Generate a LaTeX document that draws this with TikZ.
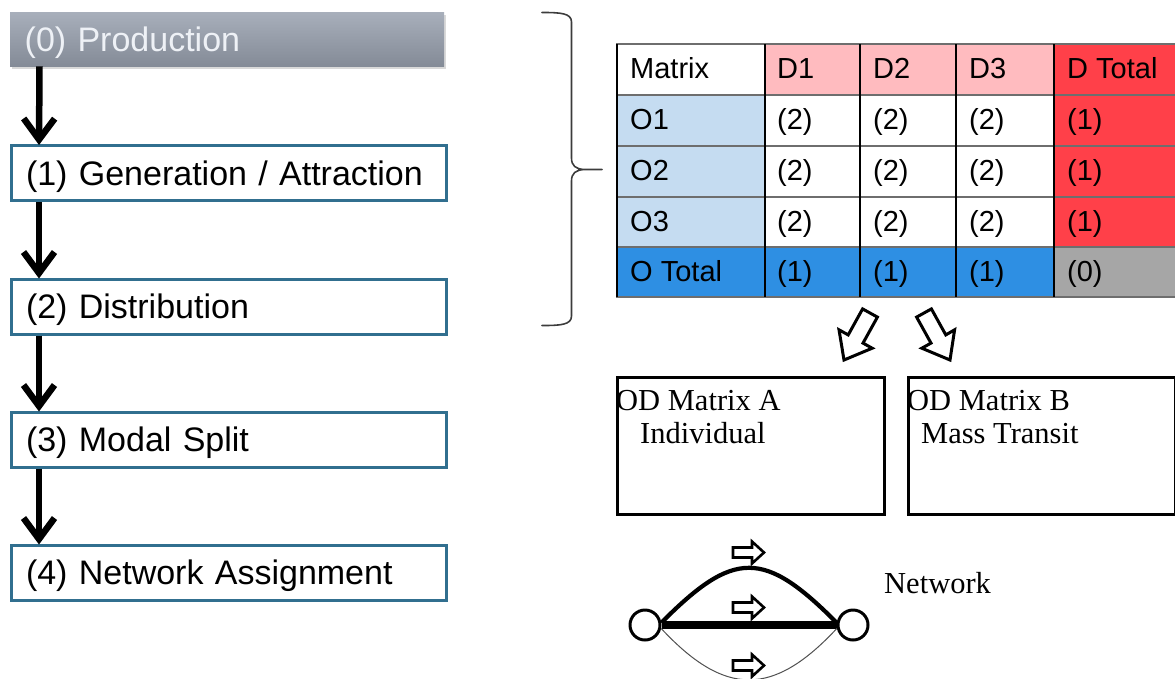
\documentclass[tikz,border=0pt]{standalone}
\usepackage{fontspec}
\newfontfamily\lsans{Liberation Sans}
\newfontfamily\lserif{Liberation Serif}
\usetikzlibrary{arrows.meta,shadows}

\definecolor{stageblue}{RGB}{49,111,143}
\definecolor{prodtop}{RGB}{168,175,187}
\definecolor{prodbot}{RGB}{132,139,151}
\definecolor{prodtext}{RGB}{238,241,246}
\definecolor{dpink}{RGB}{255,187,191}
\definecolor{dred}{RGB}{255,64,73}
\definecolor{olight}{RGB}{197,220,241}
\definecolor{oblue}{RGB}{46,143,227}
\definecolor{zgray}{RGB}{166,166,166}
\definecolor{hline}{RGB}{110,110,110}
\definecolor{bracec}{RGB}{60,60,60}
\definecolor{thinlink}{RGB}{80,80,80}

\begin{document}
\begin{tikzpicture}[x=1pt,y=-1pt,
  stagefont/.style={font=\lsans\fontsize{34}{40}\selectfont},
  stage/.style={stagefont, draw=stageblue, line width=3pt, anchor=north west,
    minimum width=435pt, minimum height=55pt, inner sep=0pt,
    text width=405pt, align=left, text height=26pt, text depth=2pt},
  flow/.style={line width=6.5pt, -{Straight Barb[length=21pt,width=31pt]}},
  cell/.style={font=\lsans\fontsize{29}{34}\selectfont, anchor=west, inner sep=0pt,
    text height=21pt, text depth=6pt},
  odbox/.style={draw, line width=3pt, anchor=north west, minimum width=267pt,
    minimum height=137pt, inner sep=0pt},
  odtext/.style={font=\lserif\fontsize{30.5}{34}\selectfont, anchor=base west, inner sep=0pt},
  hollow/.style={draw, line width=3pt, fill=white, line join=miter},
  vertex/.style={circle, draw, line width=3pt, fill=white, minimum size=30pt, inner sep=0pt},
  rarrow/.pic={\draw[hollow, line width=2.6pt] (-15.5,-5) -- (3.5,-5) -- (3.5,-11) -- (15.5,0)
      -- (3.5,11) -- (3.5,5) -- (-15.5,5) -- cycle;}
]
\useasboundingbox (0,0) rectangle (1175,678);

% ---- modelling steps ----
\node[stagefont, anchor=north west, minimum width=434pt, minimum height=54pt, inner sep=0pt,
  text width=405pt, align=left, text height=26pt, text depth=2pt,
  top color=prodtop, bottom color=prodbot, text=prodtext,
  drop shadow={shadow xshift=2pt, shadow yshift=-3pt, opacity=0.3}]
  (b0) at (10,12) {(0) Production};
\node[stage] (b1) at (9.5,144) {(1) Generation / Attraction};
\node[stage] (b2) at (9.5,277.5) {(2) Distribution};
\node[stage] (b3) at (9.5,410.5) {(3) Modal Split};
\node[stage] (b4) at (9.5,543.5) {(4) Network Assignment};

\draw[flow] ([xshift=29.5pt]b0.south west) -- ([xshift=29.5pt,yshift=-1pt]b1.north west);
\draw[flow] ([xshift=29.5pt]b1.south west) -- ([xshift=29.5pt,yshift=-1pt]b2.north west);
\draw[flow] ([xshift=29.5pt]b2.south west) -- ([xshift=29.5pt,yshift=-1pt]b3.north west);
\draw[flow] ([xshift=29.5pt]b3.south west) -- ([xshift=29.5pt,yshift=-1pt]b4.north west);

% ---- brace ----
\draw[bracec, line width=1.6pt, line cap=round]
  (542,12.5) .. controls (560,12.5) and (571.5,13) .. (571.5,22)
  -- (571.5,158) .. controls (571.5,166) and (576,169) .. (584,169.5) -- (602,169.5)
  (584,169.5) .. controls (576,170) and (571.5,173) .. (571.5,181)
  -- (571.5,316) .. controls (571.5,325) and (560,325.5) .. (542,325.5);

% ---- OD matrix table ----
\begin{scope}
\clip (0,0) rectangle (1175,678);
\fill[dpink] (765,44) rectangle (1054,95);
\fill[dred] (1054,44) rectangle (1200,247);
\fill[olight] (617,95) rectangle (765,247);
\fill[oblue] (617,247) rectangle (1054,297);
\fill[zgray] (1054,247) rectangle (1200,297);
\foreach \y in {44,95,146,197,247,297}
  \draw[hline, line width=2pt] (616,\y) -- (1200,\y);
\foreach \x in {617,765,860,956,1054}
  \draw[black, line width=1.6pt] (\x,44) -- (\x,297);

\node[cell] (h0) at (630,71) {Matrix};
\node[cell] (h1) at (777,71) {D1};
\node[cell] (h2) at (873,71) {D2};
\node[cell] (h3) at (969,71) {D3};
\node[cell] (h4) at (1067,71) {D Total};
\foreach \r/\yc in {1/122,2/173,3/223.5} {
  \node[cell] (o\r) at (630,\yc) {O\r};
  \node[cell] (c\r-1) at (777,\yc) {(2)};
  \node[cell] (c\r-2) at (873,\yc) {(2)};
  \node[cell] (c\r-3) at (969,\yc) {(2)};
  \node[cell] (c\r-4) at (1067,\yc) {(1)};
}
\node[cell] (ot) at (630,273.5) {O Total};
\node[cell] (t1) at (777,273.5) {(1)};
\node[cell] (t2) at (873,273.5) {(1)};
\node[cell] (t3) at (969,273.5) {(1)};
\node[cell] (t4) at (1067,273.5) {(0)};
\end{scope}

% ---- split arrows ----
\draw[hollow] (877.4,317.1) -- (863.0,343.1) -- (872.2,348.2) -- (844,360)
  -- (839.0,329.8) -- (848.2,334.9) -- (862.6,308.9) -- cycle;
\draw[hollow] (931.4,308.9) -- (945.8,334.9) -- (954.6,329.8) -- (950,360)
  -- (921.8,348.2) -- (931.0,343.1) -- (916.6,317.1) -- cycle;

% ---- OD matrices per mode ----
\node[odtext] (odAt) at (616,410) {OD Matrix A};
\node[odtext] (odAs) at (640,443) {Individual};
\node[odbox] (odA) at (615.5,375.5) {};
\node[odtext] (odBt) at (907,410) {OD Matrix B};
\node[odtext] (odBs) at (921,443) {Mass Transit};
\node[odbox] (odB) at (906.5,375.5) {};

% ---- network ----
\node[vertex] (n1) at (645,625) {};
\node[vertex] (n2) at (853,625) {};
\draw[line width=8.5pt] (n1) -- (n2);
\draw[line width=4.2pt] (n1.8) .. controls (734,549.5) and (764,549.5) .. (n2.172);
\draw[thinlink, line width=1pt] (n1.-12) .. controls (725,697) and (773,697) .. (n2.-168);
\pic at (748.5,552.5) {rarrow};
\pic at (748.5,607.5) {rarrow};
\pic at (748.5,665.5) {rarrow};
\node[odtext] (net) at (884,593) {Network};
\end{tikzpicture}
\end{document}
